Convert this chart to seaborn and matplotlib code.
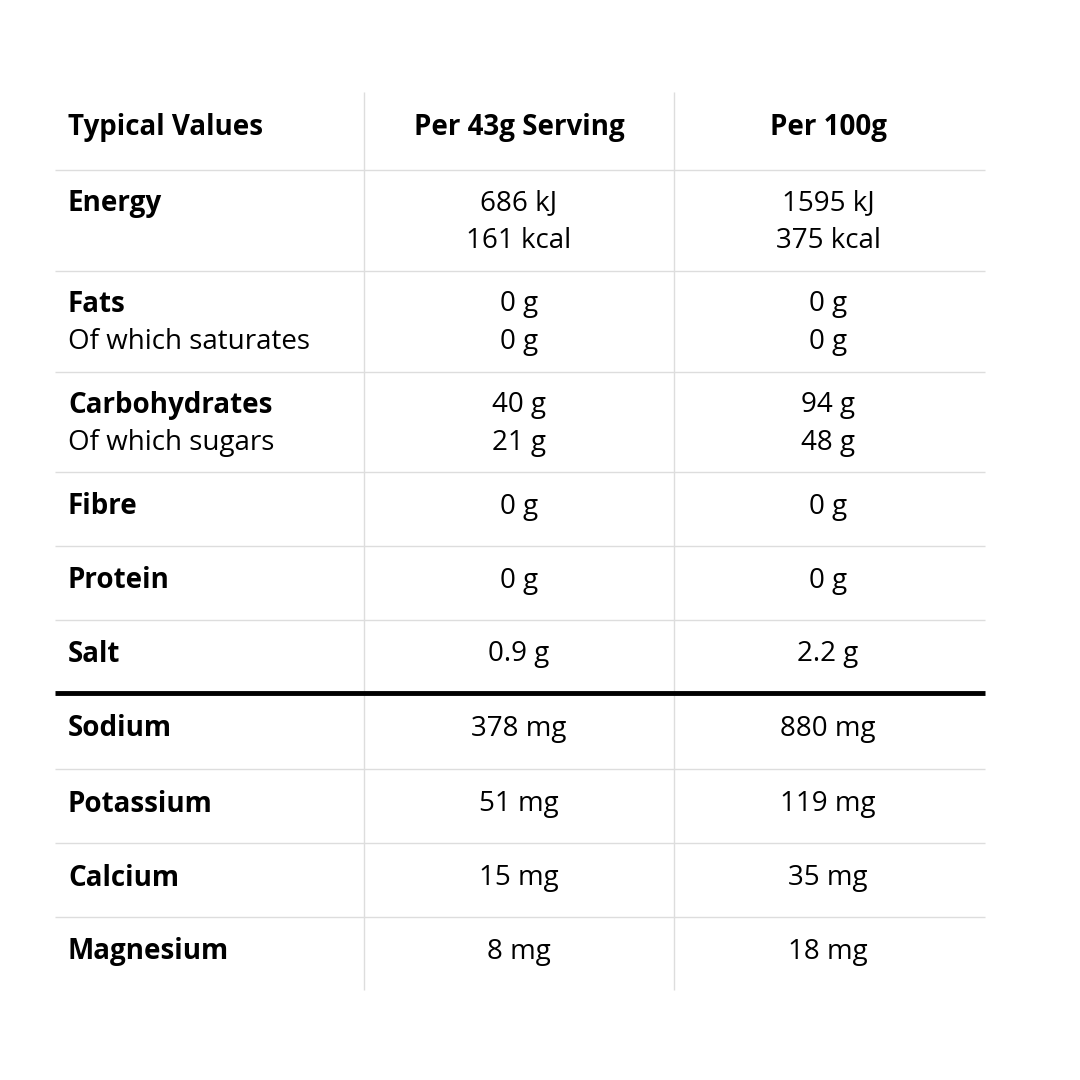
import matplotlib.pyplot as plt
import seaborn as sns

sns.set_style('white')

headers = ['Typical Values', 'Per 43g Serving', 'Per 100g']
labels = [['Energy', ''], ['Fats', 'Of which saturates'], ['Carbohydrates', 'Of which sugars'],
          ['Fibre'], ['Protein'], ['Salt'], ['Sodium'], ['Potassium'], ['Calcium'], ['Magnesium']]
per_serving = [['686 kJ', '161 kcal'], ['0 g', '0 g'], ['40 g', '21 g'], ['0 g'], ['0 g'],
               ['0.9 g'], ['378 mg'], ['51 mg'], ['15 mg'], ['8 mg']]
per_100g = [['1595 kJ', '375 kcal'], ['0 g', '0 g'], ['94 g', '48 g'], ['0 g'], ['0 g'],
            ['2.2 g'], ['880 mg'], ['119 mg'], ['35 mg'], ['18 mg']]

row_edges = [92, 170, 271, 372, 472, 546, 620, 693, 769, 843, 917, 990]
x_left, x_right = 55, 985
col_lines = [364, 674]
col_centers = [519, 828]
font = 'Open Sans'
fs = 20

fig = plt.figure(figsize=(10.8, 10.8), dpi=100)
ax = fig.add_axes([0, 0, 1, 1])
ax.set_xlim(0, 1080)
ax.set_ylim(1080, 0)
ax.axis('off')

for x in col_lines:
    ax.vlines(x, row_edges[0], row_edges[-1], color='#dddddd', lw=1)
for y in row_edges[1:-1]:
    if y == 693:
        ax.hlines(y, x_left, x_right, color='black', lw=3.5)
    else:
        ax.hlines(y, x_left, x_right, color='#dddddd', lw=1)

ax.text(68, 127, headers[0], fontsize=fs, fontweight='bold', family=font, va='center', color='black')
for cx, h in zip(col_centers, headers[1:]):
    ax.text(cx, 127, h, fontsize=fs, fontweight='bold', family=font, va='center', ha='center', color='black')

for i in range(len(labels)):
    top, bot = row_edges[i + 1], row_edges[i + 2]
    if len(labels[i]) == 2:
        ys = [top + 33, top + 71]
    else:
        ys = [(top + bot) / 2 - 2]
    for j, y in enumerate(ys):
        ax.text(68, y, labels[i][j], fontsize=fs, family=font, va='center', color='black',
                fontweight='bold' if j == 0 else 'normal')
        ax.text(col_centers[0], y, per_serving[i][j], fontsize=fs, family=font, va='center', ha='center', color='black')
        ax.text(col_centers[1], y, per_100g[i][j], fontsize=fs, family=font, va='center', ha='center', color='black')

fig.savefig('out.png', dpi=100, facecolor='white')
